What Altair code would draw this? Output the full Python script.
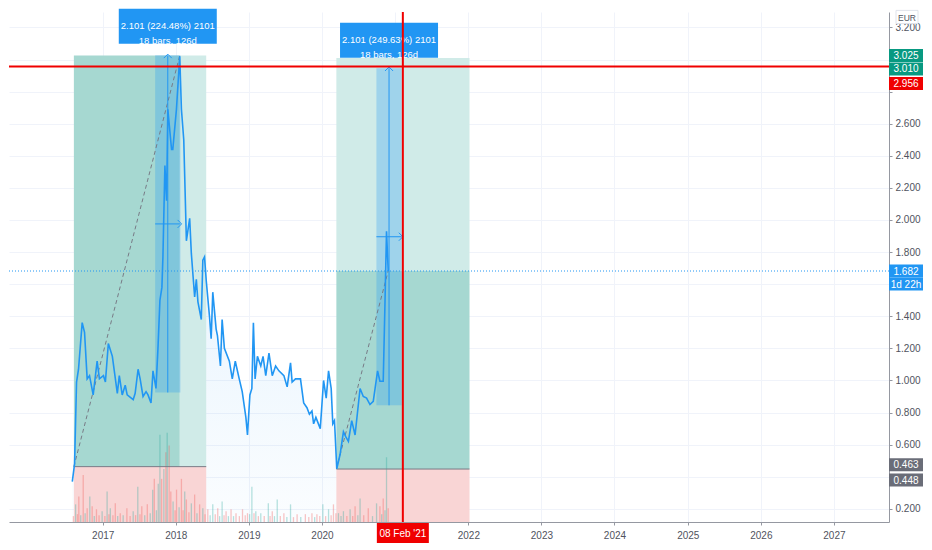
import altair as alt
import pandas as pd
import numpy as np

FONT = "Liberation Sans, Arial, sans-serif"
W, H = 880, 510

# ---------------- data ----------------
# weekly close, EUR; time as fractional year
price_t = [2016.585, 2016.616, 2016.643, 2016.670, 2016.720, 2016.752, 2016.788, 2016.820, 2016.870, 2016.924,
           2016.955, 2017.010, 2017.037, 2017.077, 2017.132, 2017.200, 2017.227, 2017.267, 2017.308, 2017.335,
           2017.417, 2017.444, 2017.484, 2017.512, 2017.552, 2017.593, 2017.620, 2017.661, 2017.688, 2017.729,
           2017.756, 2017.783, 2017.810, 2017.824, 2017.851, 2017.874, 2017.891, 2017.942, 2017.959, 2018.009,
           2018.054, 2018.077, 2018.109, 2018.145, 2018.190, 2018.213, 2018.258, 2018.281, 2018.303, 2018.349,
           2018.370, 2018.393, 2018.417, 2018.461, 2018.484, 2018.506, 2018.552, 2018.570, 2018.611, 2018.634,
           2018.665, 2018.733, 2018.773, 2018.814, 2018.868, 2018.909, 2018.959, 2018.981, 2019.014, 2019.041,
           2019.062, 2019.085, 2019.117, 2019.163, 2019.194, 2019.231, 2019.275, 2019.320, 2019.366, 2019.411,
           2019.479, 2019.524, 2019.570, 2019.592, 2019.638, 2019.706, 2019.750, 2019.795, 2019.828, 2019.863,
           2019.886, 2019.917, 2019.977, 2020.022, 2020.058, 2020.090, 2020.126, 2020.148, 2020.171, 2020.202,
           2020.248, 2020.293, 2020.324, 2020.361, 2020.406, 2020.452, 2020.520, 2020.564, 2020.609, 2020.655,
           2020.700, 2020.759, 2020.791, 2020.836, 2020.859, 2020.881, 2020.904]
price_v = [0.37, 0.48, 0.99, 1.07, 1.36, 1.30, 1.01, 1.03, 0.91, 1.12,
           1.01, 1.03, 0.99, 1.23, 1.15, 0.92, 1.03, 0.91, 0.97, 0.91,
           0.88, 0.92, 1.07, 1.01, 0.90, 0.93, 0.91, 0.86, 1.06, 0.95,
           1.20, 1.50, 1.58, 1.77, 2.34, 2.12, 2.69, 2.44, 2.44, 2.69,
           3.02, 2.69, 2.50, 1.87, 2.01, 1.79, 1.52, 1.63, 1.49, 1.38,
           1.75, 1.77, 1.62, 1.40, 1.26, 1.55, 1.32, 1.28, 1.09, 1.38,
           1.20, 1.12, 1.01, 1.12, 1.01, 0.93, 0.77, 0.66, 0.91, 0.95,
           1.36, 1.01, 1.15, 1.09, 1.15, 1.03, 1.17, 1.03, 1.09, 1.06,
           1.03, 0.96, 1.11, 0.99, 1.01, 1.01, 0.86, 0.83, 0.79, 0.81,
           0.73, 0.77, 0.70, 1.00, 0.89, 1.06, 0.95, 0.73, 0.75, 0.45,
           0.54, 0.68, 0.65, 0.62, 0.75, 0.66, 0.95, 0.90, 0.89, 0.85,
           0.87, 1.06, 0.995, 0.995, 1.46, 1.93, 1.682]

# volume (relative units), direction u = up, d = down
vol_t = [2016.600, 2016.630, 2016.655, 2016.674, 2016.700, 2016.734, 2016.760, 2016.788, 2016.824, 2016.856,
         2016.885, 2016.915, 2016.950, 2016.992, 2017.030, 2017.060, 2017.085, 2017.104, 2017.140, 2017.172,
         2017.205, 2017.240, 2017.280, 2017.331, 2017.375, 2017.417, 2017.450, 2017.480, 2017.510, 2017.535,
         2017.575, 2017.610, 2017.650, 2017.684, 2017.706, 2017.735, 2017.760, 2017.783, 2017.806, 2017.837,
         2017.864, 2017.882, 2017.909, 2017.932, 2017.963, 2017.990, 2018.010, 2018.045, 2018.077, 2018.100,
         2018.122, 2018.145, 2018.180, 2018.213, 2018.258, 2018.290, 2018.326, 2018.370, 2018.400, 2018.438,
         2018.470, 2018.506, 2018.540, 2018.574, 2018.600, 2018.634, 2018.660, 2018.688, 2018.720, 2018.756,
         2018.790, 2018.824, 2018.870, 2018.913, 2018.950, 2018.981, 2019.010, 2019.041, 2019.070, 2019.095,
         2019.130, 2019.163, 2019.210, 2019.266, 2019.290, 2019.320, 2019.350, 2019.388, 2019.430, 2019.479,
         2019.520, 2019.570, 2019.610, 2019.660, 2019.710, 2019.773, 2019.820, 2019.863, 2019.900, 2019.931,
         2019.970, 2020.012, 2020.050, 2020.090, 2020.125, 2020.157, 2020.190, 2020.225, 2020.260, 2020.293,
         2020.340, 2020.384, 2020.420, 2020.452, 2020.490, 2020.520, 2020.570, 2020.632, 2020.690, 2020.745,
         2020.791, 2020.815, 2020.836, 2020.860, 2020.881, 2020.904]
vol_v = [6, 18, 8, 26, 7, 48, 9, 14, 26, 16,
         6, 13, 7, 11, 6, 31, 8, 14, 7, 19,
         6, 9, 7, 14, 6, 11, 7, 36, 8, 16,
         7, 18, 9, 33, 44, 12, 39, 89, 44, 54,
         71, 91, 78, 31, 21, 12, 33, 15, 44, 12,
         31, 23, 10, 19, 28, 9, 18, 14, 8, 13,
         7, 18, 8, 14, 6, 21, 7, 11, 6, 13,
         6, 9, 6, 13, 7, 9, 8, 36, 9, 11,
         6, 9, 6, 19, 6, 11, 6, 23, 6, 9,
         5, 18, 5, 8, 5, 8, 5, 9, 5, 8,
         6, 18, 6, 13, 7, 18, 9, 9, 6, 11,
         6, 13, 6, 16, 7, 24, 7, 14, 6, 19,
         16, 8, 24, 12, 66, 14]
vol_dir = ["d", "u", "d", "d", "u", "d", "u", "d", "u", "d",
           "u", "d", "d", "u", "d", "u", "d", "u", "d", "d",
           "u", "d", "u", "d", "d", "u", "d", "u", "d", "d",
           "u", "d", "u", "u", "d", "u", "u", "u", "d", "u",
           "d", "u", "d", "d", "u", "d", "d", "u", "d", "d",
           "u", "d", "d", "u", "d", "u", "d", "u", "d", "d",
           "u", "u", "d", "d", "u", "u", "d", "d", "u", "d",
           "u", "d", "d", "d", "d", "d", "u", "u", "d", "u",
           "d", "u", "d", "u", "d", "d", "u", "u", "d", "d",
           "u", "u", "d", "d", "u", "d", "d", "d", "u", "d",
           "d", "u", "d", "u", "d", "d", "d", "u", "u", "u",
           "d", "u", "d", "d", "u", "u", "d", "d", "u", "u",
           "d", "u", "d", "u", "u", "d"]

# long-position tools
pos_start = ["2016-08-10", "2020-03-13"]
pos_fill_end = ["2018-01-21", "2022-01-07"]
pos_end = ["2018-06-02", "2022-01-07"]
pos_entry = [0.463, 0.448]
pos_target = [3.025, 3.010]
pos_fill_top = [3.025, 1.682]
pos_stop = [0.0, 0.0]

# date & price range measures
meas_start = ["2017-09-20", "2020-09-29"]
meas_end = ["2018-01-24", "2021-02-02"]
meas_low = [0.925, 0.845]
meas_high = [3.026, 2.946]
meas_text = ["2.101 (224.48%) 2101\n18 bars, 126d", "2.101 (249.63%) 2101\n18 bars, 126d"]
meas_label_dy = [-29, -28]

last_price = 1.682
countdown = "1d 22h"
cross_price = 2.956
cross_date = "2021-02-08"
cross_label = "08 Feb '21"
currency = "EUR"

y_ticks = [0.2, 0.4, 0.6, 0.8, 1.0, 1.2, 1.4, 1.6, 1.8, 2.0, 2.2, 2.4, 2.6, 2.8, 3.0, 3.2]
year_ticks = list(range(2017, 2028))
Y_MIN, Y_MAX = 0.118, 3.296

# ---------------- helpers ----------------
def yr2ts(t):
    y = int(np.floor(t))
    a = pd.Timestamp(year=y, month=1, day=1)
    b = pd.Timestamp(year=y + 1, month=1, day=1)
    return (a + (b - a) * (t - y)).round("h")

TS = pd.Timestamp

x_scale = alt.Scale(domain=[alt.DateTime(year=2015, month=9, date=21),
                            alt.DateTime(year=2027, month=10, date=3)], nice=False)
x_axis = alt.Axis(values=[alt.DateTime(year=y, month=1, date=1) for y in year_ticks], format="%Y",
                  labelExpr="year(datum.value) == 2021 ? '' : datum.label",
                  title=None, labelFont=FONT, labelFontSize=10, labelColor="#50535e", tickSize=3,
                  tickColor="#9598a1", domainColor="#9598a1", gridColor="#f0f3fa", labelPadding=5,
                  labelFlush=False, labelOverlap=False)
y_scale = alt.Scale(domain=[Y_MIN, Y_MAX], nice=False, zero=False)
hidden_y = "abs(datum.value-3)<0.01 || abs(datum.value-2.8)<0.01 || abs(datum.value-1.6)<0.01 || abs(datum.value-0.4)<0.01"
y_axis = alt.Axis(orient="right", values=y_ticks, format=".3f", title=None, labelFont=FONT,
                  labelExpr=f"({hidden_y}) ? '' : datum.label",
                  labelFontSize=10, labelColor="#50535e", tickSize=3, tickColor="#9598a1",
                  domainColor="#9598a1", gridColor="#f0f3fa", labelPadding=3, labelFlush=False,
                  labelOverlap=False)

XE = alt.X("date:T", scale=x_scale, axis=x_axis)
YB = alt.Y("value:Q", scale=y_scale, axis=y_axis)
YF = alt.Y("value:Q", scale=y_scale, axis=None)

df_price = pd.DataFrame({"date": [yr2ts(t) for t in price_t], "value": price_v})
df_vol = pd.DataFrame({"date": [yr2ts(t) for t in vol_t], "vol": vol_v, "dir": vol_dir})

DARK, LIGHT, PINK = "#a6d8d1", "#d0ebe8", "#f9d5d5"
rect_rows = []
for i in range(2):
    if i == 0:
        rect_rows.append((pos_start[i], pos_fill_end[i], pos_entry[i], pos_fill_top[i], DARK))
        rect_rows.append((pos_fill_end[i], pos_end[i], pos_entry[i], pos_target[i], LIGHT))
    else:
        rect_rows.append((pos_start[i], pos_end[i], pos_entry[i], pos_fill_top[i], DARK))
        rect_rows.append((pos_start[i], pos_end[i], pos_fill_top[i], pos_target[i], LIGHT))
    rect_rows.append((pos_start[i], pos_end[i], pos_stop[i], pos_entry[i], PINK))
df_rects = pd.DataFrame({"date": [TS(r[0]) for r in rect_rows], "date2": [TS(r[1]) for r in rect_rows],
                         "value": [r[2] for r in rect_rows], "value2": [r[3] for r in rect_rows],
                         "fill": [r[4] for r in rect_rows]})

df_meas = pd.DataFrame({"date": [TS(d) for d in meas_start], "date2": [TS(d) for d in meas_end],
                        "value": meas_low, "value2": meas_high})
meas_mid_date = [TS(a) + (TS(b) - TS(a)) / 2 for a, b in zip(meas_start, meas_end)]
meas_mid_val = [(a + b) / 2 for a, b in zip(meas_low, meas_high)]

# ---------------- background layer ----------------
gradient = alt.Gradient(gradient="linear",
                        stops=[alt.GradientStop(color="rgba(33,150,243,0.16)", offset=0),
                               alt.GradientStop(color="rgba(33,150,243,0.02)", offset=1)],
                        x1=1, x2=1, y1=0, y2=1)
area = alt.Chart(df_price).mark_area(color=gradient, clip=True).encode(
    x=XE, y=YB, y2=alt.datum(Y_MIN))
rects = alt.Chart(df_rects).mark_rect(clip=True).encode(
    x=XE, x2="date2:T", y=YB, y2="value2:Q", color=alt.Color("fill:N", scale=None))
meas_rects = alt.Chart(df_meas).mark_rect(color="#2196f3", opacity=0.28).encode(
    x=XE, x2="date2:T", y=YB, y2="value2:Q")
bg = alt.layer(area, rects, meas_rects)

# ---------------- volume layer ----------------
vol = alt.Chart(df_vol).mark_rule(strokeWidth=1.3, opacity=0.33).encode(
    x=XE,
    y=alt.Y("vol:Q", scale=alt.Scale(domain=[0, 520]), axis=None),
    y2=alt.datum(0),
    color=alt.Color("dir:N", scale=alt.Scale(domain=["u", "d"], range=["#26a69a", "#ef5350"]), legend=None))

# ---------------- foreground layer ----------------
fg_layers = []
df_entry = pd.DataFrame({"date": [TS(d) for d in pos_start], "date2": [TS(d) for d in pos_end],
                         "value": pos_entry})
fg_layers.append(alt.Chart(df_entry).mark_rule(color="#787b86", strokeWidth=1).encode(
    x=XE, x2="date2:T", y=YF))

df_dash = pd.DataFrame({"date": [TS(pos_start[0]), TS(pos_start[1])],
                        "date2": [TS(pos_fill_end[0]), df_price["date"].iloc[-1]],
                        "value": pos_entry, "value2": [pos_target[0], last_price]})
fg_layers.append(alt.Chart(df_dash).mark_rule(color="#787b86", strokeWidth=1, strokeDash=[4, 3]).encode(
    x=XE, x2="date2:T", y=YF, y2="value2:Q"))

fg_layers.append(alt.Chart(df_price).mark_line(color="#2196f3", strokeWidth=1.6).encode(x=XE, y=YF))

# measure arrows
df_varrow = pd.DataFrame({"date": meas_mid_date, "value": meas_low, "value2": meas_high})
fg_layers.append(alt.Chart(df_varrow).mark_rule(color="#2196f3", strokeWidth=1).encode(
    x=XE, y=YF, y2="value2:Q"))
df_harrow = pd.DataFrame({"date": [TS(d) for d in meas_start], "date2": [TS(d) for d in meas_end],
                          "value": meas_mid_val})
fg_layers.append(alt.Chart(df_harrow).mark_rule(color="#2196f3", strokeWidth=1).encode(
    x=XE, x2="date2:T", y=YF))
df_vhead = pd.DataFrame({"date": meas_mid_date, "value": meas_high})
fg_layers.append(alt.Chart(df_vhead).mark_point(shape="M-1,0.7L0,-0.3L1,0.7", size=64, filled=False,
                                                opacity=1, color="#2196f3", strokeWidth=1).encode(x=XE, y=YF))
df_hhead = pd.DataFrame({"date": [TS(d) for d in meas_end], "value": meas_mid_val})
fg_layers.append(alt.Chart(df_hhead).mark_point(shape="M-0.7,-1L0.3,0L-0.7,1", size=64, filled=False,
                                                opacity=1, color="#2196f3", strokeWidth=1).encode(x=XE, y=YF))

# last price dotted line
fg_layers.append(alt.Chart(pd.DataFrame({"value": [last_price]})).mark_rule(
    color="#2196f3", strokeWidth=1, strokeDash=[1, 2]).encode(y=YF))

# measure labels
for i in range(2):
    d = pd.DataFrame({"date": [meas_mid_date[i]], "value": [meas_high[i]], "label": [meas_text[i]]})
    fg_layers.append(alt.Chart(d).mark_point(
        shape="M-1,-0.3571L1,-0.3571L1,0.3571L-1,0.3571Z", size=9604, filled=True, opacity=1,
        color="#2196f3", strokeWidth=0, yOffset=meas_label_dy[i]).encode(x=XE, y=YF))
    fg_layers.append(alt.Chart(d).mark_text(
        color="white", font=FONT, fontSize=9.5, lineBreak="\n", lineHeight=15, align="center",
        baseline="middle", yOffset=meas_label_dy[i]).encode(x=XE, y=YF, text="label:N"))

# crosshair
fg_layers.append(alt.Chart(pd.DataFrame({"value": [cross_price]})).mark_rule(
    color="#f00000", strokeWidth=2).encode(y=YF))
fg_layers.append(alt.Chart(pd.DataFrame({"date": [TS(cross_date)]})).mark_rule(
    color="#f00000", strokeWidth=2).encode(x=XE))

# price-axis boxes
RECT = "M-1,-0.3824L1,-0.3824L1,0.3824L-1,0.3824Z"
axis_boxes = [
    (pos_target[0], 0, "#089981", f"{pos_target[0]:.3f}"),
    (pos_target[1], 11, "#089981", f"{pos_target[1]:.3f}"),
    (cross_price, 17, "#f00000", f"{cross_price:.3f}"),
    (last_price, 0, "#2196f3", f"{last_price:.3f}"),
    (last_price, 13, "#2196f3", countdown),
    (pos_entry[0], -2, "#6a6d78", f"{pos_entry[0]:.3f}"),
    (pos_entry[1], 11, "#6a6d78", f"{pos_entry[1]:.3f}"),
]
for v, off, c, txt in axis_boxes:
    d = pd.DataFrame({"value": [v], "label": [txt]})
    fg_layers.append(alt.Chart(d).mark_point(shape=RECT, size=1156, filled=True, opacity=1, color=c,
                                             strokeWidth=0, yOffset=off).encode(x=alt.value(W + 17), y=YF))
    fg_layers.append(alt.Chart(d).mark_text(color="white", font=FONT, fontSize=10, align="center",
                                            baseline="middle", yOffset=off + 0.5).encode(
        x=alt.value(W + 17), y=YF, text="label:N"))

# time-axis box
d = pd.DataFrame({"date": [TS(cross_date)], "label": [cross_label]})
fg_layers.append(alt.Chart(d).mark_point(shape="M-1,-0.3846L1,-0.3846L1,0.3846L-1,0.3846Z", size=2704,
                                         filled=True, opacity=1, color="#f00000", strokeWidth=0).encode(
    x=XE, y=alt.value(H + 11)))
fg_layers.append(alt.Chart(d).mark_text(color="white", font=FONT, fontSize=10, align="center",
                                        baseline="middle").encode(x=XE, y=alt.value(H + 11.5), text="label:N"))

# currency box
d = pd.DataFrame({"label": [currency]})
fg_layers.append(alt.Chart(d).mark_point(shape="M-1,-0.6L1,-0.6L1,0.6L-1,0.6Z", size=484, filled=True,
                                         opacity=1, fill="white", stroke="#e0e3eb", strokeWidth=1).encode(
    x=alt.value(W + 18), y=alt.value(5)))
fg_layers.append(alt.Chart(d).mark_text(color="#50535e", font=FONT, fontSize=8.5, align="center",
                                        baseline="middle").encode(x=alt.value(W + 18), y=alt.value(5.5),
                                                                  text="label:N"))

fg = alt.layer(*fg_layers)

chart = alt.layer(bg, vol, fg).resolve_scale(y="independent").properties(
    width=W, height=H, padding=0, background="white"
).configure_view(stroke=None)

chart.save("out.html", embed_options={"renderer": "svg", "actions": False})
